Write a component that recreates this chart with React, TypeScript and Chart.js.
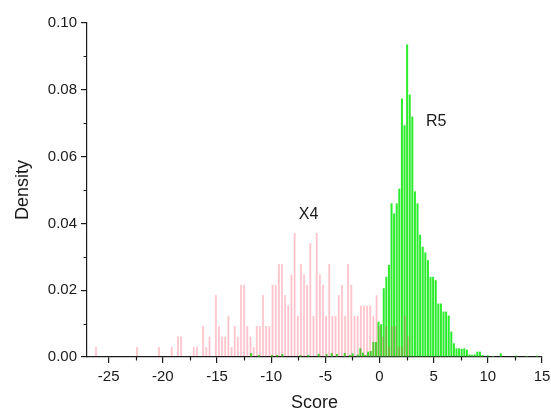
import React, { useEffect, useRef } from 'react';
import { Chart, registerables } from 'chart.js';

Chart.register(...registerables);

// Histogram X4 (pink): bin centres start at pinkStart, spaced pinkBinWidth
const pinkStart = -26.17;
const pinkBinWidth = 0.291;
const pinkDensity = [
  0.0031, 0, 0, 0, 0, 0, 0, 0, 0, 0,
  0, 0, 0, 0.0031, 0, 0, 0, 0, 0, 0,
  0.0031, 0, 0, 0, 0.0031, 0, 0.0062, 0.0062, 0, 0,
  0, 0.0031, 0.0031, 0, 0.0093, 0.0031, 0.0062, 0, 0.0186, 0.0093,
  0.0062, 0.0062, 0.0124, 0.0031, 0.0093, 0.0062, 0.0217, 0.0217, 0.0093, 0.0062,
  0.0031, 0.0093, 0.0093, 0.0186, 0.0093, 0.0093, 0.0217, 0.0217, 0.0279, 0.0279,
  0.0186, 0.0155, 0.0248, 0.0372, 0.0124, 0.0279, 0.0248, 0.0217, 0.0341, 0.0124,
  0.0372, 0.0248, 0.0217, 0.0124, 0.0279, 0.0124, 0.0124, 0.0186, 0.0217, 0.0124,
  0.0279, 0.0217, 0.0124, 0.0124, 0.0155, 0.0155, 0.0155, 0.0155, 0.0124, 0.0186,
  0.0093, 0.0062, 0.0093, 0.0031, 0.0093, 0.0093, 0.0031, 0.0031, 0.0124, 0.0062,
];

// Histogram R5 (green)
const greenStart = -11.85;
const greenBinWidth = 0.24;
const greenDensity = [
  0.0012, 0, 0, 0.0006, 0, 0, 0, 0, 0.0006, 0,
  0.0006, 0, 0.0009, 0, 0, 0, 0, 0, 0, 0.0006,
  0, 0, 0.0006, 0, 0, 0, 0.0009, 0, 0, 0.0009,
  0, 0.0012, 0, 0.0009, 0, 0, 0.0012, 0, 0.0006, 0.0011,
  0, 0.0007, 0.0026, 0.0013, 0.0006, 0.0016, 0.0018, 0.0045, 0.0045, 0.0106,
  0.0098, 0.0206, 0.024, 0.0276, 0.046, 0.043, 0.046, 0.0504, 0.0774, 0.0694,
  0.0936, 0.0786, 0.072, 0.0496, 0.046, 0.0366, 0.033, 0.0313, 0.029, 0.024,
  0.024, 0.023, 0.016, 0.016, 0.0136, 0.0136, 0.0124, 0.0076, 0.0041, 0.0026,
  0.0026, 0.0024, 0.0026, 0.0022, 0.0008, 0.0006, 0.0008, 0.0016, 0.0016, 0.0006,
  0, 0.0005, 0, 0.0003, 0, 0, 0.0011, 0, 0, 0,
  0, 0, 0.0004, 0, 0, 0, 0.0003, 0, 0, 0,
  0.0004,
];

const xMin = -27;
const xMax = 15;
const xTicks = [-25, -20, -15, -10, -5, 0, 5, 10, 15];
const xMinorTicks = [-22.5, -17.5, -12.5, -7.5, -2.5, 2.5, 7.5, 12.5];
const yTicks = [0, 0.02, 0.04, 0.06, 0.08, 0.1];
const yMinorTicks = [0.01, 0.03, 0.05, 0.07, 0.09];
const seriesLabels = ['X4', 'R5'];
const labelX = [-6.55, 5.24];
const labelY = [0.0425, 0.0705];

const FONT = '"Liberation Sans", Arial, Helvetica, sans-serif';
const INK = '#1a1a1a';

export default function App() {
  const ref = useRef<HTMLCanvasElement>(null);

  useEffect(() => {
    const canvas = ref.current;
    if (!canvas) return;

    const extras = {
      id: 'extras',
      afterDraw(chart: any) {
        const { ctx, chartArea, scales } = chart;
        const xs = scales.x;
        const ys = scales.y;
        ctx.save();
        ctx.strokeStyle = INK;
        ctx.lineWidth = 1.2;
        ctx.beginPath();
        for (const v of xMinorTicks) {
          const px = Math.round(xs.getPixelForValue(v)) + 0.5;
          ctx.moveTo(px, chartArea.bottom);
          ctx.lineTo(px, chartArea.bottom + 3.5);
        }
        for (const v of yMinorTicks) {
          const py = Math.round(ys.getPixelForValue(v)) + 0.5;
          ctx.moveTo(chartArea.left, py);
          ctx.lineTo(chartArea.left - 3.5, py);
        }
        ctx.stroke();
        ctx.fillStyle = INK;
        ctx.font = '16px ' + FONT;
        ctx.textAlign = 'center';
        ctx.textBaseline = 'middle';
        seriesLabels.forEach((t, i) => {
          ctx.fillText(t, xs.getPixelForValue(labelX[i]), ys.getPixelForValue(labelY[i]));
        });
        ctx.restore();
      },
    };

    const pinkData = pinkDensity.map((y, i) => ({ x: pinkStart + i * pinkBinWidth, y }));
    const greenData = greenDensity.map((y, i) => ({ x: greenStart + i * greenBinWidth, y }));

    const chart = new Chart(canvas, {
      type: 'bar',
      data: {
        datasets: [
          {
            label: 'X4',
            data: pinkData as any,
            xAxisID: 'x',
            order: 1,
            grouped: false,
            backgroundColor: 'rgba(255, 50, 75, 0.3)',
            borderColor: 'rgba(240, 60, 85, 0.22)',
            borderWidth: 0.6,
            categoryPercentage: 1,
            barPercentage: 0.76,
          } as any,
          {
            label: 'R5',
            data: greenData as any,
            xAxisID: 'x2',
            order: 2,
            grouped: false,
            backgroundColor: 'rgb(45, 235, 45)',
            borderWidth: 0,
            categoryPercentage: 1,
            barPercentage: 0.78,
          } as any,
        ],
      },
      options: {
        responsive: false,
        devicePixelRatio: 1,
        animation: false,
        layout: { padding: { left: 0, right: 9, top: 23, bottom: 0 } },
        plugins: { legend: { display: false }, tooltip: { enabled: false } },
        font: { family: FONT },
        scales: {
          x: {
            type: 'linear',
            position: 'bottom',
            min: xMin,
            max: xMax,
            offset: false,
            afterFit: (s: any) => { s.height = 55; s.paddingRight = 0; s.paddingLeft = 0; },
            afterBuildTicks: (s: any) => { s.ticks = xTicks.map((v) => ({ value: v })); },
            grid: { display: true, drawOnChartArea: false, drawTicks: true, tickLength: 6, color: INK, lineWidth: 1.2, offset: false },
            border: { display: true, color: INK, width: 1.2 },
            ticks: { padding: 5, color: INK, font: { size: 15, family: FONT }, maxRotation: 0, callback: (v: any) => String(v) },
            title: { display: true, text: 'Score', color: INK, font: { size: 18, family: FONT }, padding: { top: 0, bottom: -1.5 } },
          },
          x2: {
            type: 'linear',
            position: 'bottom',
            display: false,
            min: xMin,
            max: xMax,
            offset: false,
            grid: { display: false, offset: false },
          },
          y: {
            type: 'linear',
            position: 'left',
            min: 0,
            max: 0.1,
            afterFit: (s: any) => { s.width = 87; },
            afterBuildTicks: (s: any) => { s.ticks = yTicks.map((v) => ({ value: v })); },
            grid: { display: true, drawOnChartArea: false, drawTicks: true, tickLength: 6, color: INK, lineWidth: 1.2 },
            border: { display: true, color: INK, width: 1.2 },
            ticks: { padding: 4, color: INK, font: { size: 15, family: FONT }, callback: (v: any) => Number(v).toFixed(2) },
            title: { display: true, text: 'Density', color: INK, font: { size: 18, family: FONT }, padding: { top: 12, bottom: 0 } },
          },
        },
      } as any,
      plugins: [extras],
    });

    return () => chart.destroy();
  }, []);

  return (
    <div style={{ position: 'fixed', left: 0, top: 0, width: 551, height: 412, background: '#fff' }}>
      <canvas ref={ref} width={551} height={412} style={{ display: 'block', width: 551, height: 412 }} />
    </div>
  );
}
